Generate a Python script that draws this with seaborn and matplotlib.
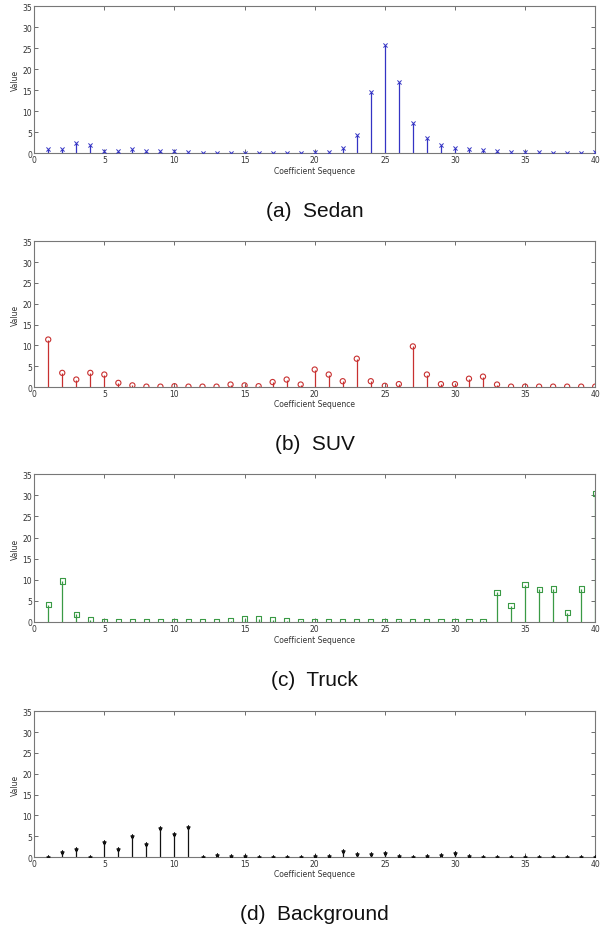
import numpy as np
import pandas as pd
import matplotlib
matplotlib.use("Agg")
import matplotlib.pyplot as plt
import seaborn as sns

# coefficient index 1..40
coef = list(range(1, 41))

sedan = [1.0, 1.0, 2.5, 2.0, 0.6, 0.6, 0.9, 0.5, 0.5, 0.5,
         0.2, 0.1, 0.1, 0.1, 0.1, 0.1, 0.1, 0.1, 0.1, 0.3,
         0.3, 1.35, 4.3, 14.5, 25.8, 17.1, 7.2, 3.7, 2.0, 1.2,
         0.95, 0.7, 0.5, 0.2, 0.2, 0.3, 0.1, 0.1, 0.1, 0.2]

suv = [11.4, 3.4, 1.8, 3.4, 3.0, 1.0, 0.4, 0.1, 0.1, 0.2,
       0.1, 0.1, 0.1, 0.6, 0.4, 0.2, 1.2, 1.8, 0.6, 4.2,
       3.0, 1.4, 6.8, 1.4, 0.3, 0.7, 9.75, 3.0, 0.7, 0.7,
       2.0, 2.5, 0.6, 0.1, 0.1, 0.1, 0.1, 0.1, 0.1, 0.1]

truck = [4.1, 9.7, 1.8, 0.55, 0.2, 0.1, 0.1, 0.1, 0.1, 0.1,
         0.1, 0.1, 0.1, 0.3, 0.7, 0.7, 0.5, 0.3, 0.2, 0.1,
         0.1, 0.1, 0.1, 0.1, 0.2, 0.2, 0.1, 0.1, 0.1, 0.1,
         0.1, 0.2, 7.0, 3.9, 8.8, 7.7, 7.8, 2.2, 7.8, 30.5]

background = [0.05, 1.3, 2.0, 0.0, 3.5, 2.0, 5.0, 3.1, 7.0, 5.6,
              7.2, 0.1, 0.4, 0.2, 0.2, 0.1, 0.1, 0.1, 0.1, 0.2,
              0.3, 1.4, 0.8, 0.8, 1.0, 0.3, 0.1, 0.3, 0.6, 1.0,
              0.3, 0.1, 0.1, 0.1, 0.1, 0.1, 0.1, 0.1, 0.1, 0.1]

titles = ["(a)  Sedan", "(b)  SUV", "(c)  Truck", "(d)  Background"]
colors = ["#3434c4", "#c83030", "#3a9a45", "#111111"]
markers = ["x", "o", "s", "*"]
msizes = [9, 14, 14, 7]

sns.set_style("ticks")
plt.rcParams['font.family'] = ['DejaVu Sans']

fig = plt.figure(figsize=(6.0, 9.29), dpi=100)

# axes boxes (left, bottom, width, height) in figure fractions
boxes = [
    [0.057, 0.834, 0.935, 0.158],
    [0.057, 0.5823, 0.935, 0.157],
    [0.057, 0.3294, 0.935, 0.159],
    [0.057, 0.0764, 0.935, 0.157],
]

series = [sedan, suv, truck, background]

for i in range(4):
    ax = fig.add_axes(boxes[i])
    df = pd.DataFrame({"coef": coef, "value": series[i]})
    ax.vlines(df["coef"], 0, df["value"], color=colors[i], linewidth=0.9)
    if markers[i] in ("x", "*"):
        sns.scatterplot(data=df, x="coef", y="value", ax=ax, marker=markers[i],
                        color=colors[i], edgecolor=colors[i], s=msizes[i],
                        linewidth=0.7, zorder=3)
    else:
        sns.scatterplot(data=df, x="coef", y="value", ax=ax, marker=markers[i],
                        facecolor="none", edgecolor=colors[i], s=msizes[i],
                        linewidth=0.8, zorder=3)
    ax.set_xlim(0, 40)
    ax.set_ylim(0, 35)
    ax.set_xticks(range(0, 41, 5))
    ax.set_yticks(range(0, 36, 5))
    ax.tick_params(direction="in", length=3, width=0.6, labelsize=5.5,
                   top=True, right=True, pad=1.5, colors="#555555",
                   labelcolor="#333333")
    for sp in ax.spines.values():
        sp.set_visible(True)
        sp.set_color("#777777")
        sp.set_linewidth(0.8)
    ax.set_xlabel("Coefficient Sequence", fontsize=5.5, labelpad=0.5,
                  color="#333333")
    ax.xaxis.set_label_coords(0.5, -0.085)
    ax.set_ylabel("Value", fontsize=5.5, labelpad=2, color="#333333")
    ax.text(0.5, -0.39, titles[i], transform=ax.transAxes, ha="center",
            va="center", fontsize=15, family="Liberation Sans",
            color="#111111")

fig.savefig("out.png", dpi=100)
